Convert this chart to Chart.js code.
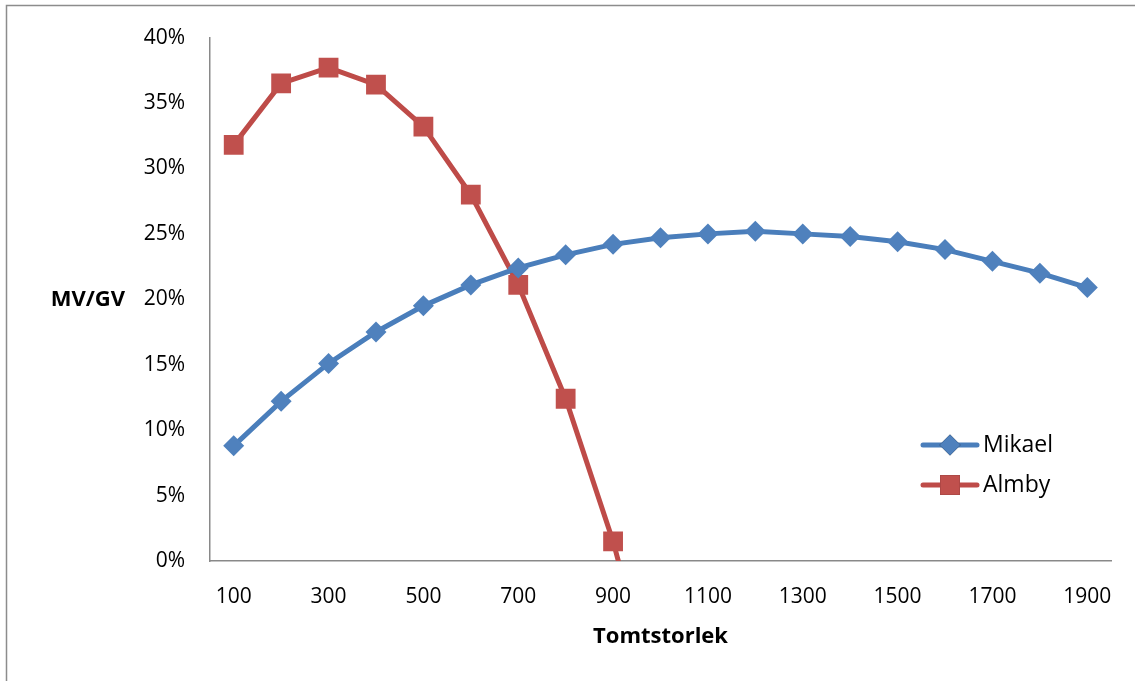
<!DOCTYPE html>
<html lang="sv">
<head>
  <meta charset="UTF-8">
  <title>MV/GV per tomtstorlek</title>
  <script src="https://cdn.jsdelivr.net/npm/chart.js@4.4.0/dist/chart.umd.min.js"></script>
  <style>
    html, body { margin: 0; padding: 0; background: #fff; }
    #wrap { width: 1135px; height: 681px; position: relative; }
  </style>
</head>
<body>
  <div id="wrap"><canvas id="chart"></canvas></div>

  <script>
    // tomtstorlek (m2)
    const sizes = ['100', '200', '300', '400', '500', '600', '700', '800', '900', '1000',
      '1100', '1200', '1300', '1400', '1500', '1600', '1700', '1800', '1900'];
    // MV/GV i procent
    const mikael = [8.8, 12.2, 15.1, 17.5, 19.5, 21.1, 22.4, 23.4, 24.2, 24.7,
      25.0, 25.2, 25.0, 24.8, 24.4, 23.8, 22.9, 22.0, 20.9];
    const almby = [31.8, 36.5, 37.7, 36.4, 33.2, 28.0, 21.1, 12.4, 1.5, -12.0,
      null, null, null, null, null, null, null, null, null];
    const yTicks = [0, 5, 10, 15, 20, 25, 30, 35, 40];

    const FONT = "'Open Sans', 'Liberation Sans', sans-serif";
    const BLUE = '#4A7EBB', BLUE_PT = '#4F81BD';
    const RED = '#BE4B48', RED_PT = '#C0504D';
    const AXIS = '#898989';

    // ram runt hela diagrammet + y-axelns rubrik + egen förklaring
    const extras = {
      id: 'extras',
      beforeDraw(chart) {
        const ctx = chart.ctx;
        ctx.save();
        ctx.strokeStyle = '#8c8c8c';
        ctx.lineWidth = 1.5;
        ctx.strokeRect(6.5, 5.5, 1140, 700);
        ctx.restore();
      },
      afterDraw(chart) {
        const ctx = chart.ctx;
        const y = chart.scales.y;
        ctx.save();
        ctx.fillStyle = '#000';
        ctx.font = 'bold 22px ' + FONT;
        ctx.textAlign = 'right';
        ctx.textBaseline = 'middle';
        ctx.fillText('MV/GV', 125, y.getPixelForValue(20));

        // förklaring
        const items = [
          { ds: chart.data.datasets[0], y: 445 },
          { ds: chart.data.datasets[1], y: 485 }
        ];
        ctx.font = '23px ' + FONT;
        ctx.textAlign = 'left';
        items.forEach(it => {
          ctx.strokeStyle = it.ds.borderColor;
          ctx.lineWidth = it.ds.borderWidth;
          ctx.lineCap = 'round';
          ctx.beginPath();
          ctx.moveTo(923, it.y);
          ctx.lineTo(977, it.y);
          ctx.stroke();
          Chart.helpers.drawPoint(ctx, {
            pointStyle: it.ds.pointStyle,
            radius: it.ds.pointRadius,
            borderWidth: 0
          }, 950, it.y);
          ctx.fillStyle = it.ds.pointBackgroundColor;
          ctx.fill();
          ctx.fillStyle = '#000';
          ctx.fillText(it.ds.label, 983, it.y);
        });
        ctx.restore();
      }
    };

    const ctx = document.getElementById('chart').getContext('2d');
    const myChart = new Chart(ctx, {
      type: 'line',
      data: {
        labels: sizes,
        datasets: [{
          label: 'Mikael',
          data: mikael,
          borderColor: BLUE,
          backgroundColor: BLUE_PT,
          pointBackgroundColor: BLUE_PT,
          pointBorderColor: BLUE_PT,
          borderWidth: 5,
          pointStyle: 'rectRot',
          pointRadius: 10.5,
          pointBorderWidth: 0,
          tension: 0
        }, {
          label: 'Almby',
          data: almby,
          borderColor: RED,
          backgroundColor: RED_PT,
          pointBackgroundColor: RED_PT,
          pointBorderColor: RED_PT,
          borderWidth: 5,
          pointStyle: 'rect',
          pointRadius: 14,
          pointBorderWidth: 0,
          tension: 0,
          spanGaps: false
        }]
      },
      options: {
        responsive: true,
        maintainAspectRatio: false,
        animation: false,
        layout: { padding: { top: 33, right: 24, bottom: 0, left: 0 } },
        plugins: {
          legend: { display: false },
          tooltip: { enabled: false }
        },
        scales: {
          x: {
            offset: true,
            grid: { display: false, drawTicks: false },
            border: { display: true, color: AXIS, width: 1.5 },
            afterFit: (s) => { s.height = 120; },
            ticks: {
              autoSkip: false,
              maxRotation: 0,
              padding: 23,
              color: '#000',
              font: { family: FONT, size: 21 },
              callback: (v, i) => (i % 2 === 0 ? sizes[i] : '')
            },
            title: {
              display: true,
              text: 'Tomtstorlek',
              color: '#000',
              font: { family: FONT, size: 22, weight: 'bold' },
              padding: { top: 0, bottom: 31 }
            }
          },
          y: {
            min: 0,
            max: 40,
            afterFit: (s) => { s.width = 210; },
            afterBuildTicks: (s) => { s.ticks = yTicks.map(v => ({ value: v })); },
            grid: { display: false, drawTicks: false },
            border: { display: true, color: AXIS, width: 1.5 },
            ticks: {
              padding: 25,
              color: '#000',
              font: { family: FONT, size: 21 },
              callback: (v) => v + '%'
            }
          }
        }
      },
      plugins: [extras]
    });
  </script>
</body>
</html>
